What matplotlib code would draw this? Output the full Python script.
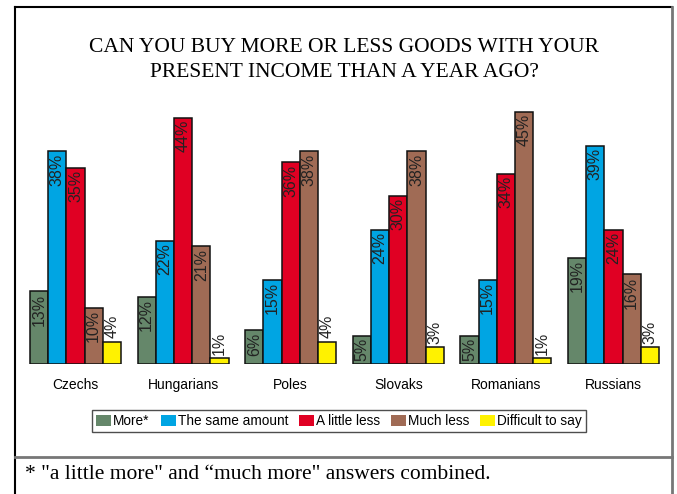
"""Purchasing power survey chart: grouped bars by nationality."""

import matplotlib
matplotlib.use("Agg")
import matplotlib.pyplot as plt
from matplotlib.patches import Patch
from matplotlib.lines import Line2D
import numpy as np

groups = ["Czechs", "Hungarians", "Poles", "Slovaks", "Romanians", "Russians"]
series = ["More*", "The same amount", "A little less", "Much less", "Difficult to say"]
more = [13, 12, 6, 5, 5, 19]
same = [38, 22, 15, 24, 15, 39]
little_less = [35, 44, 36, 30, 34, 24]
much_less = [10, 21, 38, 38, 45, 16]
difficult = [4, 1, 4, 3, 1, 3]
values = [more, same, little_less, much_less, difficult]
colors = ["#65876A", "#00A5E3", "#E00023", "#A06B55", "#FFF200"]

W, H = 677, 494
fig = plt.figure(figsize=(W / 100, H / 100), dpi=100)
sans = ["Liberation Sans", "DejaVu Sans"]
serif = ["Liberation Serif", "DejaVu Serif"]

# axes placed in pixel terms: baseline at y=364, left edge x=20
left_px, right_px, base_px, top_px = 20, 660, 364, 100
ax = fig.add_axes([left_px / W, (H - base_px) / H,
                   (right_px - left_px) / W, (base_px - top_px) / H])
pitch = 107.6
c0 = 75.5
ax.set_xlim((left_px - c0) / pitch, (right_px - c0) / pitch)
ax.set_ylim(0, (base_px - top_px) / 5.6)

bw = 18.2 / pitch
x = np.arange(len(groups))
for i, (vals, col) in enumerate(zip(values, colors)):
    xs = x + (i - 2) * bw
    ax.bar(xs, vals, width=bw, color=col, edgecolor="#111111", linewidth=1.1)
    for xi, v in zip(xs, vals):
        if i == 4:
            ax.text(xi, v + 0.6, f"{v}%", rotation=90, ha="center", va="bottom",
                    fontsize=11.5, family=sans, color="#222222")
        else:
            ax.text(xi, v - 0.4, f"{v}%", rotation=90, ha="center", va="top",
                    fontsize=11.5, family=sans, color="#222222")

ax.set_xticks(x)
ax.set_xticklabels(groups, family=sans, fontsize=10)
ax.tick_params(axis="x", length=0, pad=10)
ax.set_yticks([])
for s in ax.spines.values():
    s.set_visible(False)

# title
fig.text(344 / W, 1 - 48 / H, "CAN YOU BUY MORE OR LESS GOODS WITH YOUR",
         ha="center", va="center", family=serif, fontsize=15.5)
fig.text(344 / W, 1 - 72 / H, "PRESENT INCOME THAN A YEAR AGO?",
         ha="center", va="center", family=serif, fontsize=15.5)

# legend
handles = [Patch(facecolor=c, edgecolor="none") for c in colors]
leg = fig.legend(handles, series, loc="center", bbox_to_anchor=(339 / W, 1 - 421 / H),
                 ncol=5, prop={"family": sans, "size": 9.8}, frameon=True,
                 fancybox=False, handlelength=1.1, handleheight=0.9, handletextpad=0.15,
                 columnspacing=0.8, borderpad=0.3, borderaxespad=0)
leg.get_frame().set_edgecolor("#222222")
leg.get_frame().set_linewidth(1.0)

# outer frame and footnote separator
fig.add_artist(Line2D([15 / W, 15 / W], [0, 1 - 7 / H], color="black", lw=1.5))
fig.add_artist(Line2D([15 / W, 672 / W], [1 - 7 / H, 1 - 7 / H], color="black", lw=1.5))
fig.add_artist(Line2D([672 / W, 672 / W], [0, 1 - 7 / H], color="#777777", lw=2))
fig.add_artist(Line2D([15 / W, 672 / W], [1 - 457 / H, 1 - 457 / H], color="#777777", lw=2))

fig.text(25 / W, 1 - 474 / H, "* \"a little more\" and \u201cmuch more\" answers combined.",
         ha="left", va="center", family=serif, fontsize=15.5)

fig.savefig("out.png", dpi=100)
